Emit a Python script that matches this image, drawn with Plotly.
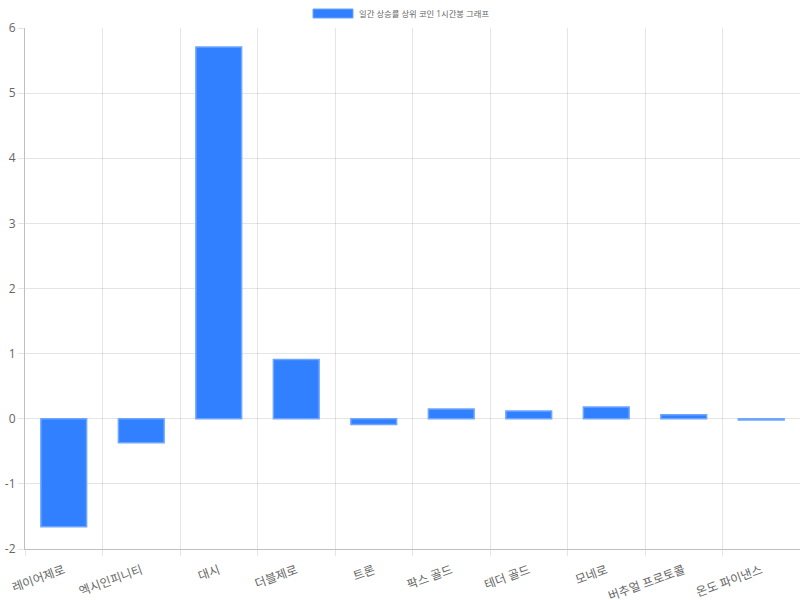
import plotly.graph_objects as go

categories = ["레이어제로", "엑시인피니티", "대시", "더블제로", "트론", "팍스 골드", "테더 골드", "모네로", "버추얼 프로토콜", "온도 파이낸스"]
values = [-1.66, -0.37, 5.71, 0.91, -0.09, 0.15, 0.12, 0.18, 0.06, -0.02]
series_name = "일간 상승률 상위 코인 1시간봉 그래프"
y_ticks = [-2, -1, 0, 1, 2, 3, 4, 5, 6]
y_tick_text = ["-2", "-1", "0", "1", "2", "3", "4", "5", "6"]

FONT = "Open Sans, Noto Sans CJK KR, sans-serif"
fig = go.Figure()
fig.add_trace(go.Bar(
    x=categories, y=values, name=series_name,
    width=0.59,
    marker=dict(color="rgb(48,128,255)", line=dict(color="rgba(110,165,255,1)", width=1.5)),
    showlegend=False,
))

# manual legend (Chart.js style wide box)
fig.add_shape(type="rect", xref="paper", yref="paper",
              x0=(313-25)/775, x1=(353-25)/775, y0=1+(28-18)/521, y1=1+(28-9)/521,
              fillcolor="rgb(48,128,255)", line=dict(color="rgba(110,165,255,1)", width=1))
fig.add_annotation(text=series_name, xref="paper", yref="paper",
                   x=(357-25)/775, y=1+(28-13.5)/521, xanchor="left", yanchor="middle",
                   showarrow=False, font=dict(size=8.3, color="#666", family=FONT))

fig.update_layout(
    width=800, height=600,
    margin=dict(l=25, r=0, t=28, b=51),
    paper_bgcolor="white", plot_bgcolor="white",
    font=dict(family=FONT, size=12, color="#666"),
)
fig.update_xaxes(
    type="category", tickson="boundaries", ticks="outside", ticklen=6,
    tickcolor="rgba(0,0,0,0.1)", showgrid=True, gridcolor="rgba(0,0,0,0.1)",
    showline=True, linecolor="rgba(0,0,0,0.25)", linewidth=1,
    tickangle=-20, automargin=False, ticklabelstandoff=9,
    tickfont=dict(size=12, color="#666"),
)
fig.update_yaxes(
    range=[-2, 6], tickvals=y_ticks, ticktext=y_tick_text, ticks="outside", ticklen=6,
    tickcolor="rgba(0,0,0,0.1)", showgrid=True, gridcolor="rgba(0,0,0,0.1)",
    zeroline=True, zerolinecolor="rgba(0,0,0,0.1)", zerolinewidth=1,
    showline=True, linecolor="rgba(0,0,0,0.25)", linewidth=1,
    automargin=False, tickfont=dict(size=12, color="#666"),
)
fig.write_html("out.html", config={"displayModeBar": False},
               post_script="document.body.style.margin='0';document.body.style.overflow='hidden';")
